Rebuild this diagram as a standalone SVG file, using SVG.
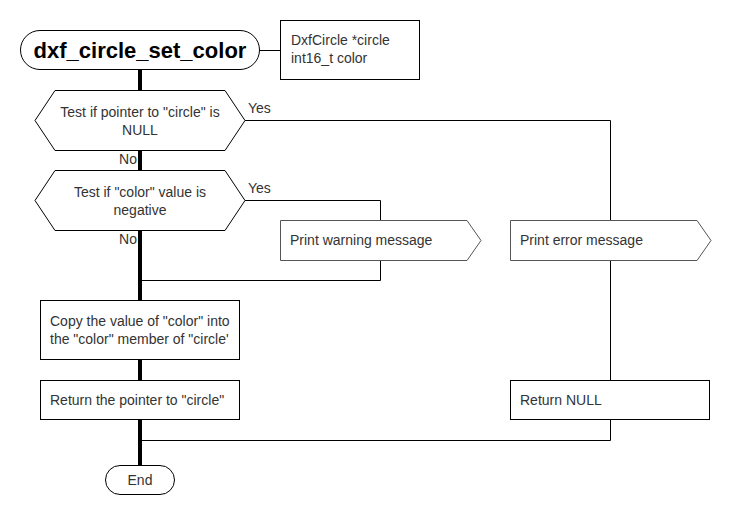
<svg xmlns="http://www.w3.org/2000/svg" width="730" height="520" viewBox="0 0 730 520">
<style>
text{font-family:"Liberation Sans",Arial,sans-serif;font-size:14px;fill:#333}
.c{text-anchor:middle}
.title{font-size:22px;font-weight:bold;fill:#000}
.box{fill:#fff;stroke:#000;stroke-width:1}
.shape{fill:#fff;stroke:#555;stroke-width:1}
.thin{fill:none;stroke:#000;stroke-width:1}
.spine{fill:none;stroke:#000;stroke-width:4}
</style>
<rect width="730" height="520" fill="#fff"/>
<g id="connectors">
<path class="spine" d="M140 70V90M140 150V170M140 230V300M140 360V380M140 420V465"/>
<path class="thin" d="M260 50.5H280"/>
<path class="thin" d="M245 120.5H610.5V220M610.5 260V380M610.5 420V440.5H140"/>
<path class="thin" d="M245 200.5H380.5V220M380.5 260V280.5H140"/>
<text x="248" y="113">Yes</text>
<text x="248" y="193">Yes</text>
<text x="137" y="164" text-anchor="end">No</text>
<text x="137" y="244" text-anchor="end">No</text>
</g>
<g id="start">
<rect class="box" x="20.5" y="30.5" width="239" height="39" rx="19.5"/>
<text class="title c" x="140" y="57.5">dxf_circle_set_color</text>
</g>
<g id="params">
<rect class="box" x="280.5" y="20.5" width="139" height="59"/>
<text x="291" y="45">DxfCircle *circle</text>
<text x="291" y="63">int16_t color</text>
</g>
<g id="dec1">
<polygon class="box" points="35,120.5 55,90.5 225,90.5 245,120.5 225,150.5 55,150.5"/>
<text class="c" x="140" y="117">Test if pointer to "circle" is</text>
<text class="c" x="140" y="135">NULL</text>
</g>
<g id="dec2">
<polygon class="box" points="35,200.5 55,170.5 225,170.5 245,200.5 225,230.5 55,230.5"/>
<text class="c" x="140" y="197">Test if "color" value is</text>
<text class="c" x="140" y="215">negative</text>
</g>
<g id="warn">
<polygon class="shape" points="280.5,220.5 467,220.5 481,240.5 467,260.5 280.5,260.5"/>
<text x="290" y="245">Print warning message</text>
</g>
<g id="err">
<polygon class="shape" points="510.5,220.5 697,220.5 711,240.5 697,260.5 510.5,260.5"/>
<text x="520" y="245">Print error message</text>
</g>
<g id="copy">
<rect class="box" x="40.5" y="300.5" width="199" height="59"/>
<text x="50" y="326">Copy the value of "color" into</text>
<text x="50" y="344">the "color" member of "circle'</text>
</g>
<g id="ret">
<rect class="box" x="40.5" y="380.5" width="199" height="39"/>
<text x="50" y="405">Return the pointer to "circle"</text>
</g>
<g id="retnull">
<rect class="box" x="510.5" y="380.5" width="199" height="39"/>
<text x="520" y="405">Return NULL</text>
</g>
<g id="end">
<rect class="box" x="105.5" y="465.5" width="69" height="29" rx="14.5"/>
<text class="c" x="140" y="485">End</text>
</g>
</svg>
